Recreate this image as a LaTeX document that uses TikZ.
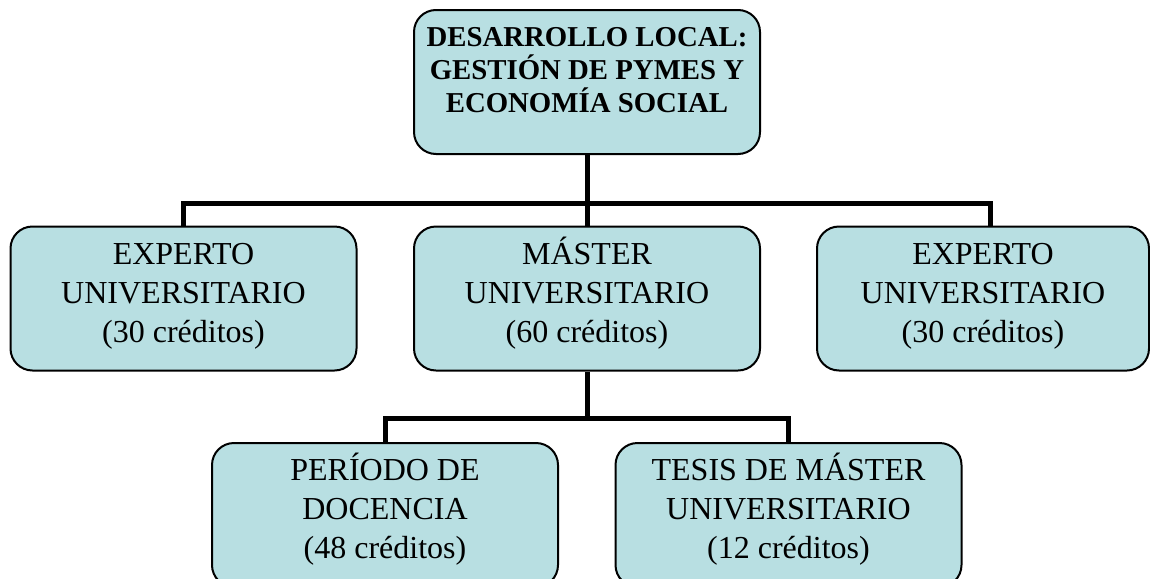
\documentclass[tikz,border=0pt]{standalone}
\usepackage{fontspec}
\setmainfont{Liberation Serif}
\newlength{\du}
\setlength{\du}{0.5pt}
\definecolor{cajacolor}{RGB}{184,223,226}
\newcommand{\lineas}[3]{\vphantom{Á}#1\\ #2\\ #3}
\tikzset{
  caja/.style={draw=black,fill=cajacolor,line width=2\du,rounded corners=22\du,
    minimum width=346\du,minimum height=144\du,inner sep=0pt,align=center,
    font=\fontsize{16}{19.5}\selectfont,
    execute at end node={\rule[-9pt]{0pt}{1pt}}},
  rama/.style={draw=black,line width=5\du}
}

\begin{document}
\begin{tikzpicture}
\pgftransformxscale{1.000000}
\pgftransformyscale{-1.000000}
\useasboundingbox (0\du,0\du) rectangle (1150\du,578\du);
\clip (0\du,0\du) rectangle (1150\du,578\du);
% cajas
\node[caja,font=\fontsize{14.4}{16.5}\selectfont\bfseries,execute at end node={}] (titulo) at (587\du,82\du)
  {\parbox[c][110\du][t]{330\du}{\centering DESARROLLO LOCAL:\\ GESTIÓN DE PYMES Y\\ ECONOMÍA SOCIAL}};
\node[caja] (expizq) at (183.5\du,298.5\du) {\lineas{EXPERTO}{UNIVERSITARIO}{(30 créditos)}};
\node[caja] (master) at (587\du,298.5\du) {\lineas{MÁSTER}{UNIVERSITARIO}{(60 créditos)}};
\node[caja,minimum width=332\du] (expder) at (983\du,298.5\du) {\lineas{EXPERTO}{UNIVERSITARIO}{(30 créditos)}};
\node[caja] (docencia) at (385\du,515\du) {\lineas{PERÍODO DE}{DOCENCIA}{(48 créditos)}};
\node[caja] (tesis) at (788.5\du,515\du) {\lineas{TESIS DE MÁSTER}{UNIVERSITARIO}{(12 créditos)}};
% ramas
\coordinate (cruce1) at (587\du,203\du);
\coordinate (cruce2) at (587\du,418\du);
\draw[rama] (titulo.south) -- (cruce1);
\draw[rama] (cruce1) -| (expizq.north);
\draw[rama] (cruce1) -| ([xshift=7\du]expder.north);
\draw[rama] (cruce1) -- (master.north);
\draw[rama] (master.south) -- (cruce2);
\draw[rama] (cruce2) -| (docencia.north);
\draw[rama] (cruce2) -| (tesis.north);
\end{tikzpicture}
\end{document}
